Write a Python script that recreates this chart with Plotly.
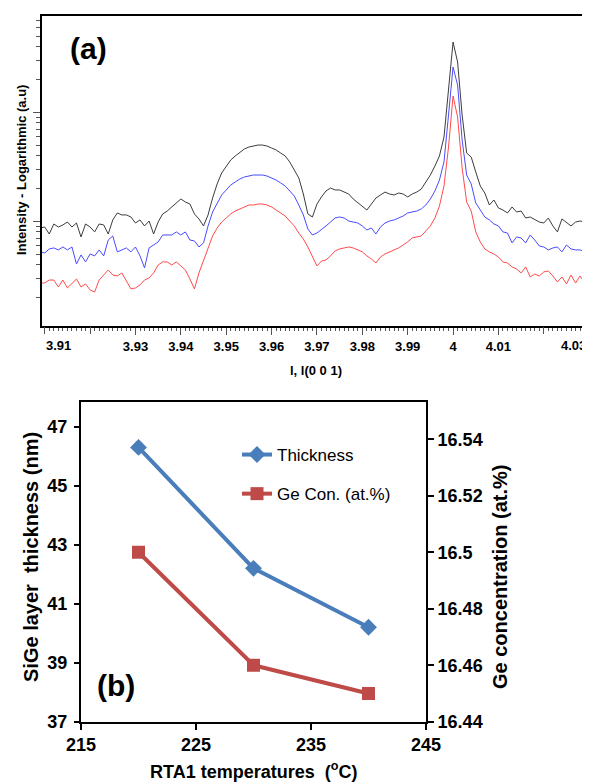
import math
import plotly.graph_objects as go

# ---------------- panel (a): XRD scan, log10 intensity (a.u.) ----------------
l_values = [3.909, 3.910, 3.911, 3.912, 3.913, 3.914, 3.915, 3.916, 3.917, 3.918,
            3.919, 3.920, 3.921, 3.922, 3.923, 3.924, 3.925, 3.926, 3.927, 3.928,
            3.929, 3.930, 3.931, 3.932, 3.933, 3.934, 3.935, 3.936, 3.937, 3.938,
            3.939, 3.940, 3.941, 3.942, 3.943, 3.944, 3.945, 3.946, 3.947, 3.948,
            3.949, 3.950, 3.951, 3.952, 3.953, 3.954, 3.955, 3.956, 3.957, 3.958,
            3.959, 3.960, 3.961, 3.962, 3.963, 3.964, 3.965, 3.966, 3.967, 3.968,
            3.969, 3.970, 3.971, 3.972, 3.973, 3.974, 3.975, 3.976, 3.977, 3.978,
            3.979, 3.980, 3.981, 3.982, 3.983, 3.984, 3.985, 3.986, 3.987, 3.988,
            3.989, 3.990, 3.991, 3.992, 3.993, 3.994, 3.995, 3.996, 3.997, 3.998,
            3.999, 4.000, 4.001, 4.002, 4.003, 4.004, 4.005, 4.006, 4.007, 4.008,
            4.009, 4.010, 4.011, 4.012, 4.013, 4.014, 4.015, 4.016, 4.017, 4.018,
            4.019, 4.020, 4.021, 4.022, 4.023, 4.024, 4.025, 4.026, 4.027, 4.028,
            4.029, 4.030]

log_int_black = [1.938, 1.947, 1.883, 1.975, 1.947, 1.966, 1.993, 1.947, 1.984, 1.856,
                 1.975, 1.947, 1.902, 1.975, 1.966, 1.883, 2.012, 2.076, 2.058, 2.058,
                 2.039, 1.984, 2.012, 1.957, 2.002, 1.883, 1.993, 2.067, 2.094, 2.131,
                 2.168, 2.204, 2.177, 2.158, 2.067, 2.021, 1.957, 2.058, 2.213, 2.342,
                 2.443, 2.507, 2.562, 2.599, 2.635, 2.663, 2.681, 2.690, 2.699, 2.699,
                 2.690, 2.672, 2.654, 2.626, 2.599, 2.544, 2.470, 2.397, 2.250, 2.067,
                 2.039, 2.158, 2.223, 2.278, 2.305, 2.287, 2.287, 2.268, 2.250, 2.204,
                 2.168, 2.140, 2.103, 2.158, 2.213, 2.241, 2.268, 2.250, 2.241, 2.259,
                 2.250, 2.223, 2.250, 2.268, 2.296, 2.360, 2.424, 2.507, 2.599, 2.773,
                 3.204, 3.644, 3.461, 2.974, 2.626, 2.589, 2.452, 2.323, 2.259, 2.149,
                 2.195, 2.122, 2.103, 2.076, 2.131, 2.085, 2.094, 2.030, 2.039, 2.012,
                 1.993, 1.984, 2.030, 1.957, 1.902, 2.021, 1.993, 1.957, 1.993, 2.002,
                 1.993, 1.957]

log_int_blue = [1.719, 1.709, 1.746, 1.755, 1.737, 1.764, 1.737, 1.764, 1.608, 1.691,
                1.627, 1.700, 1.682, 1.737, 1.682, 1.828, 1.865, 1.719, 1.737, 1.755,
                1.719, 1.764, 1.682, 1.572, 1.755, 1.782, 1.810, 1.874, 1.874, 1.874,
                1.902, 1.874, 1.902, 1.828, 1.819, 1.764, 1.801, 1.957, 2.085, 2.168,
                2.241, 2.287, 2.333, 2.360, 2.388, 2.406, 2.415, 2.424, 2.424, 2.424,
                2.415, 2.397, 2.378, 2.351, 2.323, 2.278, 2.232, 2.149, 2.058, 1.929,
                1.874, 1.892, 1.929, 1.957, 1.993, 2.030, 2.039, 2.030, 2.002, 1.993,
                1.984, 1.957, 1.920, 1.938, 1.883, 1.947, 1.984, 2.002, 2.012, 2.030,
                2.048, 2.076, 2.085, 2.094, 2.113, 2.149, 2.204, 2.278, 2.378, 2.544,
                2.974, 3.415, 3.250, 2.745, 2.424, 2.342, 2.168, 2.103, 2.039, 2.012,
                1.975, 1.957, 1.902, 1.892, 1.801, 1.856, 1.847, 1.801, 1.874, 1.828,
                1.773, 1.764, 1.737, 1.755, 1.764, 1.719, 1.782, 1.746, 1.737, 1.737,
                1.719, 1.691]

log_int_red = [1.434, 1.434, 1.461, 1.461, 1.397, 1.461, 1.388, 1.425, 1.470, 1.397,
               1.425, 1.370, 1.351, 1.461, 1.507, 1.553, 1.507, 1.498, 1.526, 1.452,
               1.379, 1.388, 1.416, 1.461, 1.480, 1.526, 1.599, 1.627, 1.627, 1.599,
               1.627, 1.590, 1.553, 1.470, 1.379, 1.526, 1.645, 1.755, 1.865, 1.938,
               1.993, 2.030, 2.067, 2.094, 2.113, 2.131, 2.149, 2.149, 2.158, 2.158,
               2.149, 2.131, 2.103, 2.076, 2.048, 2.002, 1.957, 1.892, 1.837, 1.764,
               1.682, 1.590, 1.635, 1.645, 1.682, 1.728, 1.746, 1.755, 1.764, 1.755,
               1.737, 1.719, 1.682, 1.654, 1.617, 1.672, 1.700, 1.719, 1.737, 1.755,
               1.782, 1.810, 1.847, 1.856, 1.865, 1.911, 1.957, 2.030, 2.140, 2.323,
               2.681, 3.149, 2.956, 2.489, 2.177, 2.094, 1.902, 1.810, 1.746, 1.719,
               1.700, 1.672, 1.627, 1.617, 1.581, 1.562, 1.526, 1.581, 1.489, 1.516,
               1.498, 1.535, 1.544, 1.498, 1.443, 1.489, 1.425, 1.507, 1.434, 1.498,
               1.434, 1.480]

top_xtick_vals = [3.93, 3.94, 3.95, 3.96, 3.97, 3.98, 3.99, 4.00, 4.01]
top_xtick_text = ["3.93", "3.94", "3.95", "3.96", "3.97", "3.98", "3.99", "4", "4.01"]
top_xtick_unlabeled = [3.91, 3.92, 4.02]
top_decades = [1, 2, 3]

# ---------------- panel (b): RTA1 results ----------------
rta_temp = [220, 230, 240]
thickness_nm = [46.3, 42.2, 40.2]
ge_conc = [16.50, 16.46, 16.45]

b_xticks = [215, 225, 235, 245]
b_yticks_left = [37, 39, 41, 43, 45, 47]
b_yticks_right = [16.44, 16.46, 16.48, 16.50, 16.52, 16.54]
b_yticks_right_text = ["16.44", "16.46", "16.48", "16.5", "16.52", "16.54"]

FONT = "Liberation Sans, Arial, sans-serif"
W, H = 590, 782
OFF = 8  # page body margin


def px(x):
    return (x - OFF) / W


def py(y):
    return 1 - (y - OFF) / H


fig = go.Figure()

for yv, col in [(log_int_black, "#3c3c3c"), (log_int_blue, "#4b4bff"), (log_int_red, "#ff4b4b")]:
    fig.add_trace(go.Scatter(x=l_values, y=yv, mode="lines", line=dict(color=col, width=1),
                             xaxis="x", yaxis="y", showlegend=False, hoverinfo="skip"))

# empty helper trace so the overlay axis (unlabelled long ticks) is drawn
fig.add_trace(go.Scatter(x=[], y=[], xaxis="x3", yaxis="y", showlegend=False))

fig.add_trace(go.Scatter(x=rta_temp, y=thickness_nm, mode="lines+markers", name="Thickness",
                         line=dict(color="#4A7EBB", width=4),
                         marker=dict(symbol="diamond", size=13, color="#4A7EBB"),
                         xaxis="x2", yaxis="y2", legendgroup="a"))
fig.add_trace(go.Scatter(x=rta_temp, y=ge_conc, mode="lines+markers", name="Ge Con. (at.%)",
                         line=dict(color="#BE4B48", width=4),
                         marker=dict(symbol="square", size=13, color="#BE4B48"),
                         xaxis="x2", yaxis="y3", legendgroup="b"))

minor_y = [d + math.log10(k) for d in top_decades for k in range(2, 10)]
top_range = [3.9094, 4.0293]

fig.update_layout(
    template="none",
    width=W, height=H,
    margin=dict(l=0, r=0, t=0, b=0, autoexpand=False),
    paper_bgcolor="white", plot_bgcolor="white",
    font=dict(family=FONT, color="black"),
    xaxis=dict(domain=[px(42), px(586)], anchor="y", range=top_range, automargin=False,
               tickmode="array", tickvals=top_xtick_vals, ticktext=top_xtick_text,
               ticks="outside", ticklen=7, tickwidth=1, tickcolor="#555",
               ticklabelstandoff=0,
               minor=dict(ticks="outside", ticklen=3, tickwidth=1, tickcolor="#555",
                          tick0=3.91, dtick=0.001, showgrid=False),
               tickfont=dict(size=13, family=FONT, weight="bold"),
               showline=True, linewidth=2, linecolor="black", mirror=True,
               showgrid=False, zeroline=False),
    xaxis3=dict(overlaying="x", anchor="y", range=top_range, automargin=False,
                tickmode="array", tickvals=top_xtick_unlabeled, showticklabels=False,
                ticks="outside", ticklen=7, tickwidth=1, tickcolor="#555",
                showline=False, showgrid=False, zeroline=False),
    yaxis=dict(domain=[py(326), py(16)], anchor="x", range=[1.039, 3.883], automargin=False,
               tickmode="array", tickvals=top_decades, showticklabels=False,
               ticks="outside", ticklen=7, tickwidth=1, tickcolor="#555",
               minor=dict(ticks="outside", ticklen=4, tickwidth=1, tickcolor="#555",
                          tickmode="array", tickvals=minor_y, showgrid=False),
               showline=True, linewidth=2, linecolor="black", mirror=True,
               showgrid=False, zeroline=False),
    xaxis2=dict(domain=[px(81), px(426)], anchor="y2", range=[215, 245], automargin=False,
                tickmode="array", tickvals=b_xticks,
                ticks="outside", ticklen=6, tickwidth=1.5, tickcolor="black",
                tickfont=dict(size=18, family=FONT, weight="bold"),
                showline=True, linewidth=2, linecolor="black", mirror=True,
                showgrid=False, zeroline=False),
    yaxis2=dict(domain=[py(721.7), py(401.7)], anchor="x2", range=[37, 47.85],
                automargin=False,
                tickmode="array", tickvals=b_yticks_left,
                ticks="outside", ticklen=5, tickwidth=1.5, tickcolor="black",
                ticklabelstandoff=3,
                tickfont=dict(size=18, family=FONT, weight="bold"),
                showline=True, linewidth=2, linecolor="black",
                showgrid=False, zeroline=False),
    yaxis3=dict(overlaying="y2", side="right", anchor="x2", range=[16.44, 16.5533],
                automargin=False,
                tickmode="array", tickvals=b_yticks_right, ticktext=b_yticks_right_text,
                ticks="outside", ticklen=6, tickwidth=1.5, tickcolor="black",
                tickfont=dict(size=18, family=FONT, weight="bold"),
                showline=True, linewidth=2, linecolor="black",
                showgrid=False, zeroline=False),
    legend=dict(x=px(237), y=py(437), xanchor="left", yanchor="top",
                bgcolor="rgba(0,0,0,0)", font=dict(size=17, family=FONT),
                traceorder="grouped", tracegroupgap=14, itemwidth=30),
    showlegend=True,
)

ann = [
    dict(text="(a)", x=px(88), y=py(49), font=dict(size=30, weight="bold")),
    dict(text="Intensity - Logarithmic (a.u)", x=px(21), y=py(170), textangle=-90,
         font=dict(size=13, weight="bold")),
    dict(text="l, l(0 0 1)", x=px(316), y=py(370), font=dict(size=13, weight="bold")),
    dict(text="3.91", x=px(44), y=py(345), xanchor="left", font=dict(size=13, weight="bold")),
    dict(text="4.03", x=px(588), y=py(345), xanchor="right", font=dict(size=13, weight="bold")),
    dict(text="(b)", x=px(116), y=py(685), font=dict(size=30, weight="bold")),
    dict(text="SiGe layer  thickness (nm)", x=px(31), y=py(557), textangle=-90,
         font=dict(size=20, weight="bold")),
    dict(text="Ge concentration (at.%)", x=px(500), y=py(577), textangle=-90,
         font=dict(size=20, weight="bold")),
    dict(text="RTA1 temperatures  (<sup>o</sup>C)", x=px(253), y=py(770),
         font=dict(size=18, weight="bold")),
]
for a in ann:
    a.setdefault("xanchor", "center")
    a.update(xref="paper", yref="paper", yanchor="middle", showarrow=False)
    a["font"].update(family=FONT, color="black")
fig.update_layout(annotations=ann)

fig.write_html("out.html")
